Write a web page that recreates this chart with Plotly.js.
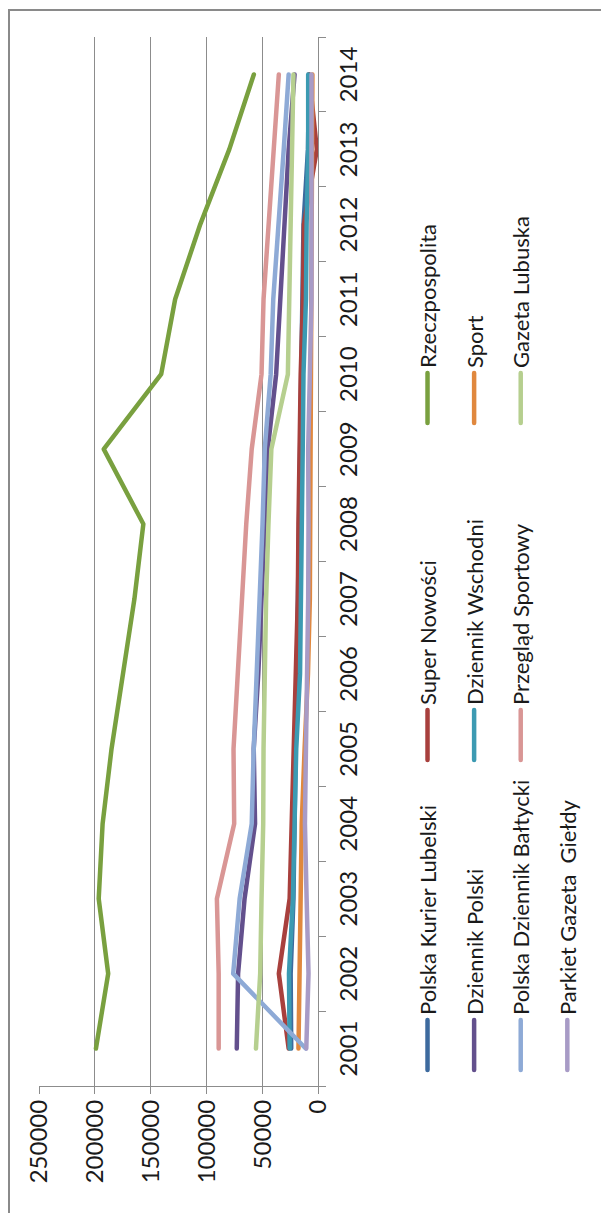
<!DOCTYPE html>
<html>
<head>
<meta charset="utf-8">
<script src="https://cdn.plot.ly/plotly-3.0.1.min.js"></script>
<style>
  html, body { margin:0; padding:0; background:#fff; overflow:hidden; width:601px; height:1213px; }
  #wrap { position:absolute; left:0; top:1213px; width:1213px; height:601px;
          transform-origin:0 0; transform:rotate(-90deg); background:#fff; }
  #chart { position:absolute; left:0; top:0; width:1213px; height:601px; }
  #frame { position:absolute; left:-10px; top:8px; width:1214px; height:700px;
           border:2px solid #8a8a8a; box-sizing:border-box; pointer-events:none; }
  .js-line { stroke-linejoin:round; stroke-linecap:round; }
</style>
</head>
<body>
<div id="wrap">
  <div id="chart"></div>
  <div id="frame"></div>
</div>
<script>
// ---- data ----
const years = ['2001','2002','2003','2004','2005','2006','2007','2008','2009','2010','2011','2012','2013','2014'];
const seriesNames = ['Polska Kurier Lubelski','Super Nowości','Rzeczpospolita','Dziennik Polski','Dziennik Wschodni','Sport','Polska Dziennik Bałtycki','Przegląd Sportowy','Gazeta Lubuska','Parkiet Gazeta  Giełdy'];
const polskaKurierLubelski = [24000, 24500, 22000, 21000, 20000, 19000, 18000, 17000, 16500, 14500, 13500, 13000, 9000, 8000];
const superNowosci        = [26300, 35100, 25400, 23400, 22200, 20000, 18100, 17500, 16700, 15500, 13500, 12600, 1000, 8000];
const rzeczpospolita      = [199000, 188000, 196500, 193000, 185000, 175000, 164500, 156500, 192000, 140500, 128000, 105500, 79500, 57500];
const dziennikPolski      = [72800, 71600, 65800, 56400, 57600, 53500, 50600, 48200, 45000, 37500, 34000, 30100, 26300, 21000];
const dziennikWschodni    = [25400, 26000, 22500, 20500, 19500, 16100, 15000, 14300, 13700, 13000, 10800, 10200, 8800, 8800];
const sport               = [17500, 16700, 15500, 14600, 12000, 9000, 7300, 7000, 6500, 6000, 5500, 5500, 5000, 5000];
const polskaDziennikBaltycki = [11000, 76000, 70200, 59400, 57600, 54700, 51800, 49700, 47700, 42400, 40100, 35100, 30700, 26300];
const przegladSportowy    = [89000, 89000, 90600, 75100, 75700, 72200, 68700, 64300, 59400, 50600, 48800, 44400, 39500, 35100];
const gazetaLubuska       = [55600, 51800, 50600, 49100, 48800, 47700, 46500, 44400, 41800, 27000, 25500, 24000, 23000, 22000];
const parkietGazetaGieldy = [10500, 8500, 10200, 11700, 10800, 9500, 8800, 8500, 8800, 7300, 5800, 5800, 5800, 5800];
const valueTicks = [0, 50000, 100000, 150000, 200000, 250000];

// ---- styles ----
const seriesValues = [polskaKurierLubelski, superNowosci, rzeczpospolita, dziennikPolski, dziennikWschodni, sport, polskaDziennikBaltycki, przegladSportowy, gazetaLubuska, parkietGazetaGieldy];
const colors = ['#3d6a9e','#a8403d','#79a03f','#63508d','#3c9ab2','#e0883e','#8eaad6','#d99695','#b6cf8f','#a89bc6'];
const legendOf = ['legend','legend2','legend3','legend','legend2','legend3','legend','legend2','legend3','legend'];

const traces = seriesNames.map((name, i) => ({
  type: 'scatter', mode: 'lines', name: name,
  x: years, y: seriesValues[i],
  line: { color: colors[i], width: 4.5 },
  legend: legendOf[i], legendgroup: 'g' + i,
  hoverinfo: 'skip'
}));

const axisGray = '#8c8c8c';
const textFont = { family:'Lato, sans-serif', size:22, color:'#1a1a1a' };
const tickFont = { family:'Lato, sans-serif', size:24, color:'#1a1a1a' };
const legendCommon = { orientation:'v', xanchor:'left', yanchor:'top', y:-0.318,
  tracegroupgap: 15, itemwidth: 50, bgcolor:'rgba(0,0,0,0)', font: textFont };

const layout = {
  width: 1213, height: 601,
  margin: { l:127, r:37, t:39, b:276, pad:0 },
  paper_bgcolor: 'rgba(0,0,0,0)', plot_bgcolor: 'rgba(0,0,0,0)',
  font: textFont,
  showlegend: true,
  xaxis: { type:'category', range:[-0.5, 13.5], showgrid:false, zeroline:false,
    showline:true, linecolor:axisGray, linewidth:1, tickfont: tickFont,
    ticks:'outside', tickson:'boundaries', ticklen:7, tickcolor:axisGray, tickwidth:1,
    ticklabelstandoff: 9, fixedrange:true },
  yaxis: { range:[0, 250000], tickvals: valueTicks, tickformat:'d', showgrid:true, gridcolor:axisGray, gridwidth:1,
    zeroline:false, showline:true, linecolor:axisGray, linewidth:1, tickfont: tickFont,
    ticks:'outside', ticklen:7, tickcolor:axisGray, tickwidth:1, ticklabelstandoff: 1, fixedrange:true },
  legend:  Object.assign({}, legendCommon, { x: (138 - 127) / 1049 }),
  legend2: Object.assign({}, legendCommon, { x: (448 - 127) / 1049 }),
  legend3: Object.assign({}, legendCommon, { x: (785 - 127) / 1049 })
};

Plotly.newPlot('chart', traces, layout, { staticPlot: true, displayModeBar: false });
</script>
</body>
</html>
